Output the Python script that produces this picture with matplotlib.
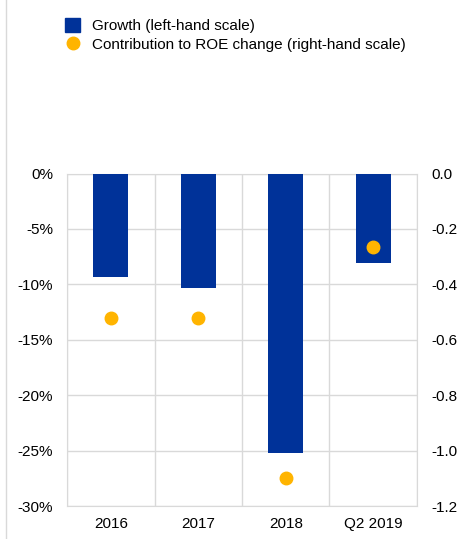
import numpy as np
import matplotlib.pyplot as plt
from matplotlib.lines import Line2D
from matplotlib.patches import Patch

plt.rcParams['font.family'] = ['Liberation Sans', 'DejaVu Sans']

categories = ["2016", "2017", "2018", "Q2 2019"]
growth = [-9.3, -10.3, -25.2, -8.1]          # %, left-hand scale
roe_contrib = [-0.52, -0.52, -1.10, -0.265]   # right-hand scale

blue = "#003299"
yellow = "#ffb400"
grid = "#d9d9d9"

fig = plt.figure(figsize=(4.6, 5.39), dpi=100)
ax = fig.add_axes([0.1457, 0.0612, 0.7608, 0.6168])
x = np.arange(len(categories))

ax.bar(x, growth, width=0.4, color=blue, zorder=3)
ax.set_xlim(-0.5, len(categories) - 0.5)
ax.set_ylim(-30, 0)
ax.set_yticks(np.arange(-30, 1, 5))
ax.set_yticklabels([f"{v}%" for v in range(-30, 1, 5)])
ax.set_xticks(x)
ax.set_xticklabels(categories)

# grid: horizontal at ticks, vertical between categories
ax.set_xticks(np.arange(-0.5, len(categories)), minor=True)
ax.grid(axis="y", color=grid, lw=1, zorder=0)
ax.grid(axis="x", which="minor", color=grid, lw=1, zorder=0)
for s in ax.spines.values():
    s.set_color(grid)
ax.tick_params(which="both", length=0, labelsize=11, colors="black")
ax.tick_params(axis="y", pad=10)
ax.tick_params(axis="x", pad=8)

ax2 = ax.twinx()
ax2.plot(x, roe_contrib, "o", color=yellow, ms=9, zorder=4)
ax2.set_ylim(-1.2, 0)
ax2.set_yticks(np.arange(-1.2, 0.01, 0.2))
ax2.set_yticklabels(["-1.2", "-1.0", "-0.8", "-0.6", "-0.4", "-0.2", "0.0"])
ax2.tick_params(length=0, labelsize=11, pad=10)
for s in ax2.spines.values():
    s.set_visible(False)

handles = [
    Patch(facecolor=blue, edgecolor=blue),
    Line2D([], [], marker="o", ls="none", color=yellow, ms=9),
]
fig.legend(handles, ["Growth (left-hand scale)",
                     "Contribution to ROE change (right-hand scale)"],
           loc="upper left", bbox_to_anchor=(0.128, 0.978), frameon=False,
           fontsize=11, handlelength=1.0, handleheight=1.0,
           handletextpad=0.8, labelspacing=0.25, borderaxespad=0)

fig.add_artist(Line2D([0.013, 0.013], [0, 1], color=grid, lw=1,
                      transform=fig.transFigure))

fig.savefig("out.png", dpi=100)
